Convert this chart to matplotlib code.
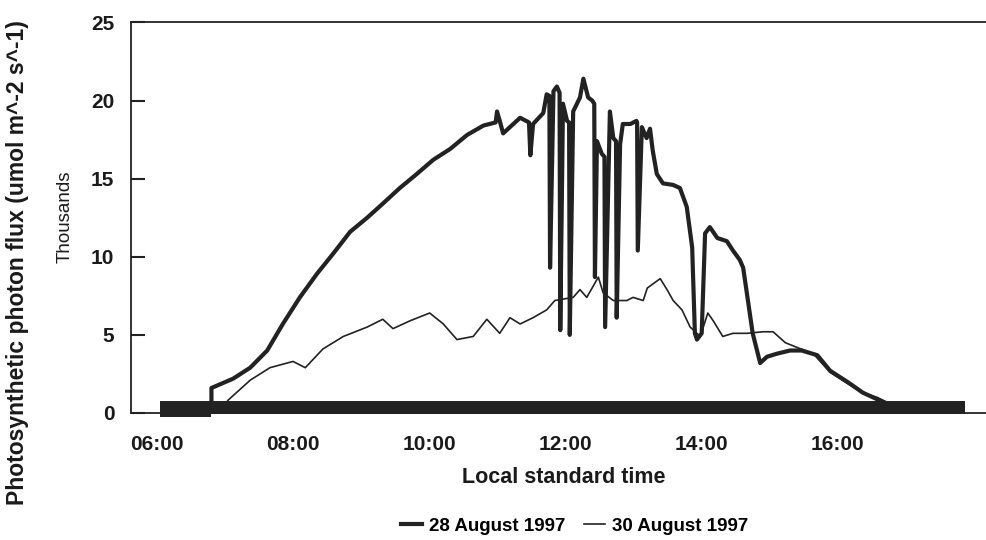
import matplotlib
matplotlib.use("Agg")
import matplotlib.pyplot as plt

plt.rcParams['font.family'] = ['Liberation Sans', 'DejaVu Sans']

# hours (decimal local standard time) and PPF in thousands
aug28_t = [6.80, 6.80, 7.12, 7.37, 7.62, 7.85, 8.10, 8.35, 8.59, 8.84, 9.09, 9.32, 9.57,
           9.82, 10.06, 10.31, 10.56, 10.80, 10.98, 11.00, 11.04, 11.09, 11.19, 11.34,
           11.47, 11.49, 11.53, 11.68, 11.73, 11.77, 11.78, 11.83, 11.88, 11.92, 11.93,
           11.97, 12.03, 12.06, 12.07, 12.12, 12.22, 12.27, 12.34, 12.40, 12.43, 12.44,
           12.47, 12.54, 12.58, 12.59, 12.66, 12.71, 12.75, 12.76, 12.81, 12.85, 12.96,
           13.05, 13.06, 13.07, 13.13, 13.20, 13.25, 13.29, 13.35, 13.44, 13.59, 13.69,
           13.79, 13.87, 13.91, 13.94, 14.01, 14.06, 14.13, 14.24, 14.38, 14.47, 14.57,
           14.62, 14.69, 14.76, 14.87, 14.97, 15.12, 15.31, 15.48, 15.71, 15.90, 16.15,
           16.38, 16.53, 16.68]
aug28_v = [0.5, 1.6, 2.2, 2.9, 4.0, 5.7, 7.4, 8.9, 10.2, 11.6, 12.5, 13.4, 14.4,
           15.3, 16.2, 16.9, 17.8, 18.4, 18.6, 19.3, 18.7, 17.9, 18.3, 18.9,
           18.6, 16.5, 18.5, 19.2, 20.4, 20.3, 9.3, 20.6, 20.9, 20.5, 5.3,
           19.8, 18.7, 18.6, 5.0, 19.3, 20.2, 21.4, 20.2, 20.0, 19.8, 8.7,
           17.4, 16.6, 16.4, 5.5, 19.3, 17.6, 17.4, 6.1, 17.2, 18.5, 18.5,
           18.7, 18.6, 10.4, 18.3, 17.6, 18.2, 16.8, 15.3, 14.7, 14.6, 14.4,
           13.2, 10.6, 5.1, 4.7, 5.1, 11.5, 11.9, 11.2, 11.0, 10.4, 9.8,
           9.3, 7.2, 5.1, 3.2, 3.6, 3.8, 4.0, 4.0, 3.7, 2.7, 2.0,
           1.3, 1.0, 0.7]

aug30_t = [7.04, 7.37, 7.66, 8.00, 8.18, 8.44, 8.74, 9.09, 9.32, 9.47, 9.72, 10.01,
           10.21, 10.41, 10.65, 10.85, 11.04, 11.19, 11.34, 11.53, 11.73, 11.85, 12.12,
           12.22, 12.32, 12.49, 12.56, 12.71, 12.91, 13.00, 13.15, 13.21, 13.40, 13.50,
           13.59, 13.72, 13.84, 13.99, 14.10, 14.18, 14.32, 14.47, 14.68, 14.91, 15.06,
           15.24, 15.41, 15.65, 15.90, 16.15, 16.38, 16.59, 16.78]
aug30_v = [0.8, 2.1, 2.9, 3.3, 2.9, 4.1, 4.9, 5.5, 6.0, 5.4, 5.9, 6.4,
           5.7, 4.7, 4.9, 6.0, 5.1, 6.1, 5.7, 6.1, 6.6, 7.2, 7.4,
           7.9, 7.4, 8.7, 7.7, 7.2, 7.2, 7.4, 7.2, 8.0, 8.6, 7.9,
           7.2, 6.6, 5.5, 4.9, 6.4, 5.9, 4.9, 5.1, 5.1, 5.2, 5.2,
           4.5, 4.2, 3.8, 2.6, 1.9, 1.3, 1.0, 0.6]

# night-time noise band near zero (thousands)
band_t = [6.04, 6.80, 6.80, 17.88]
band_lo = [-0.26, -0.26, -0.06, -0.06]
band_hi = [0.77, 0.77, 0.77, 0.77]

dark = '#222222'

fig = plt.figure(figsize=(9.86, 5.4), dpi=100)
ax = fig.add_axes([0.1329, 0.2352, 0.8671, 0.7232])

ax.fill_between(band_t, band_lo, band_hi, color=dark, lw=0, clip_on=False, zorder=3)
ax.plot(aug28_t, aug28_v, color=dark, lw=3.0, label='28 August 1997', zorder=4)
ax.plot(aug30_t, aug30_v, color=dark, lw=1.2, label='30 August 1997', zorder=4)

ax.set_xlim(6 - 26 / 68, 6 + 829 / 68)
ax.set_ylim(0, 25)
ax.set_yticks([0, 5, 10, 15, 20, 25])
ax.set_xticks([6, 8, 10, 12, 14, 16])
ax.set_xticklabels(['06:00', '08:00', '10:00', '12:00', '14:00', '16:00'])

for s in ['left', 'top', 'bottom']:
    ax.spines[s].set_color(dark)
    ax.spines[s].set_linewidth(1.3)
ax.spines['right'].set_visible(False)

ax.tick_params(axis='y', direction='in', length=10, width=1.5, color=dark, pad=12,
               labelsize=15)
ax.tick_params(axis='x', length=0, pad=16, labelsize=15)
for lab in ax.get_xticklabels() + ax.get_yticklabels():
    lab.set_fontweight('bold')
    lab.set_color('#1a1a1a')

ax.set_xlabel('Local standard time', fontsize=15.5, fontweight='bold', color='#1a1a1a')
ax.xaxis.set_label_coords((564 - 131) / 855, -0.138)

fig.text(0.018, 0.513, 'Photosynthetic photon flux (umol m^-2 s^-1)', rotation=90,
         ha='center', va='center', fontsize=16.5, fontweight='bold', color='#1a1a1a')
fig.text(0.066, 0.598, 'Thousands', rotation=90, ha='center', va='center',
         fontsize=13.5, color='#1a1a1a')

fig.legend(loc='lower center', bbox_to_anchor=(0.583, -0.022), ncol=2, frameon=False,
           handlelength=1.1, handletextpad=0.4, columnspacing=1.0,
           prop={'size': 13.5, 'weight': 'bold'})

fig.savefig('out.png', dpi=100)
